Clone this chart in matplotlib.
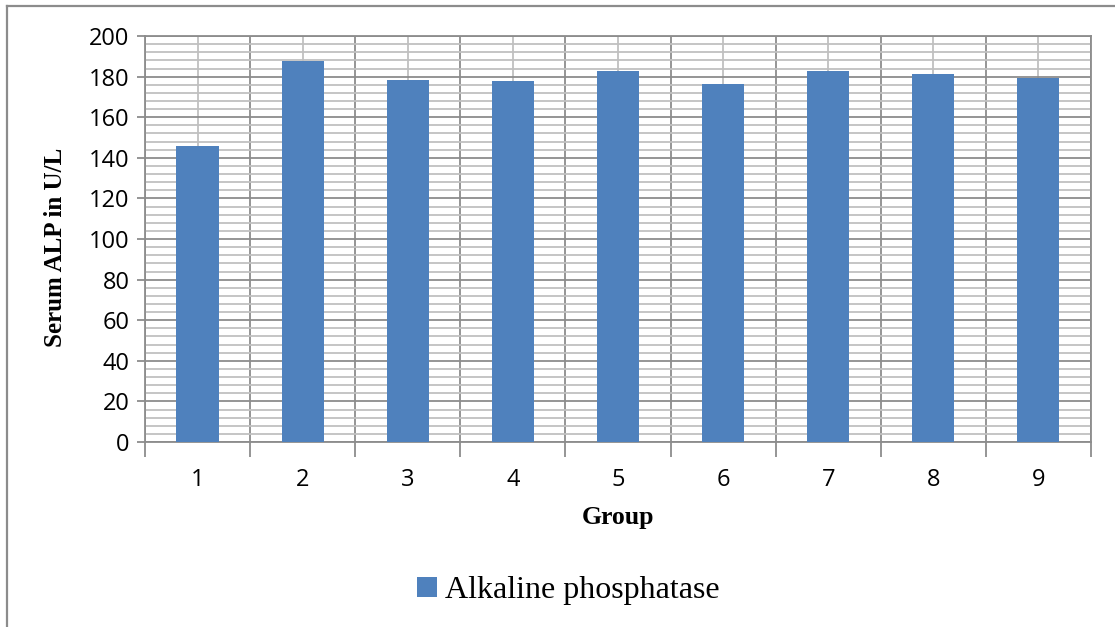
import numpy as np
import matplotlib.pyplot as plt
from matplotlib.lines import Line2D
from matplotlib.patches import Patch

# serum ALP per group
groups = ["1", "2", "3", "4", "5", "6", "7", "8", "9"]
alp = [145.8, 187.8, 178.4, 177.9, 182.9, 176.4, 183.0, 181.3, 179.4]
series_name = "Alkaline phosphatase"

bar_color = "#4F81BD"
major_grid = "#8C8C8C"
minor_grid = "#C0C0C0"

fig = plt.figure(figsize=(11.15, 6.27), dpi=100)
ax = fig.add_axes([0.130, 0.295, 0.8485, 0.6475])

x = np.arange(len(groups))
ax.bar(x, alp, width=0.4, color=bar_color, zorder=3)

ax.set_xlim(-0.5, len(groups) - 0.5)
ax.set_ylim(0, 200)

# y: majors every 20, minors every 4
ax.set_yticks(np.arange(0, 201, 20))
ax.set_yticks(np.arange(0, 201, 4), minor=True)
# x: labels at centres, ticks/grid at category boundaries
ax.set_xticks(x)
ax.set_xticklabels(groups)
ax.set_xticks(np.arange(-0.5, len(groups), 1.0), minor=True)

ax.grid(which="major", axis="y", color=major_grid, linewidth=1.3, zorder=1)
ax.grid(which="minor", axis="y", color=minor_grid, linewidth=1.3, zorder=0)
ax.grid(which="minor", axis="x", color=major_grid, linewidth=1.3, zorder=1)
ax.grid(which="major", axis="x", color=minor_grid, linewidth=1.3, zorder=0)

ax.tick_params(axis="y", which="major", length=6, width=1.3, color=major_grid,
               labelsize=17, pad=5)
ax.tick_params(axis="y", which="minor", length=0)
ax.tick_params(axis="x", which="major", length=0, labelsize=17, pad=19)
ax.tick_params(axis="x", which="minor", length=11, width=1.3, color=major_grid)

for s in ax.spines.values():
    s.set_color(major_grid)
    s.set_linewidth(1.3)

for lab in ax.get_xticklabels() + ax.get_yticklabels():
    lab.set_fontfamily("Open Sans")

ax.set_xlabel("Group", fontfamily="Liberation Serif", fontweight="bold",
              fontsize=18.5, labelpad=10)
ax.set_ylabel("Serum ALP in U/L", fontfamily="Liberation Serif",
              fontweight="bold", fontsize=18)
ax.yaxis.set_label_coords(-0.082, 0.48)

handle = Patch(facecolor=bar_color, edgecolor="none")
fig.legend([handle], [series_name], loc="center", bbox_to_anchor=(0.51, 0.058),
           frameon=False, prop={"family": "Liberation Serif", "size": 23},
           handlelength=0.62, handleheight=0.62, handletextpad=0.25)

# outer chart frame (left and top edges)
fig.add_artist(Line2D([0.0060, 0.0060], [0, 0.991], color="#8C8C8C",
                      linewidth=1.6, transform=fig.transFigure))
fig.add_artist(Line2D([0.0060, 1.0], [0.991, 0.991], color="#8C8C8C",
                      linewidth=1.6, transform=fig.transFigure))

fig.savefig("out.png", dpi=100)
